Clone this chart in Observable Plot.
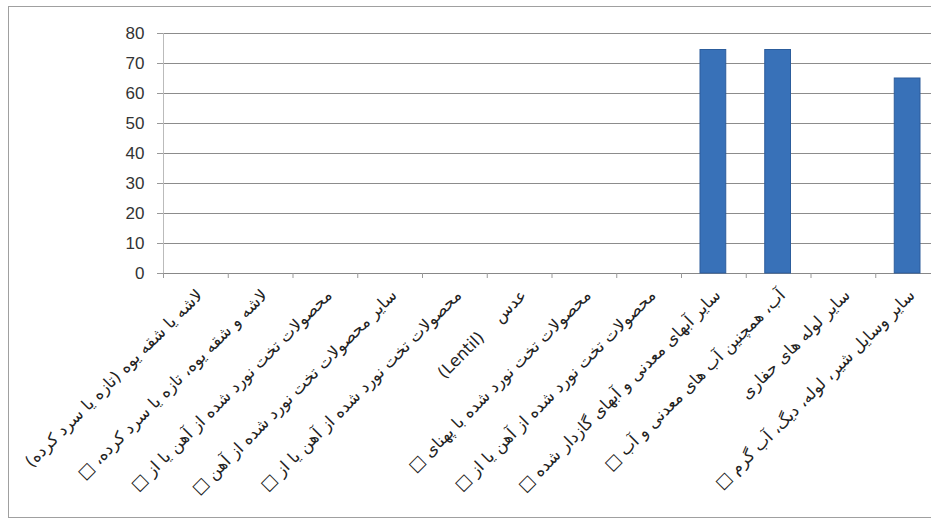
<!DOCTYPE html>
<html><head><meta charset="utf-8">
<script src="https://cdn.jsdelivr.net/npm/d3@7"></script>
<script src="https://cdn.jsdelivr.net/npm/@observablehq/plot@0.6"></script>
<style>
html,body{margin:0;padding:0;background:#fff;overflow:hidden;width:931px;height:523px;}
#frame{position:absolute;left:8px;top:6px;width:960px;height:512px;border:1px solid #a0a0a0;box-sizing:border-box;}
#chart{position:absolute;left:0;top:0;}
#chart svg{max-width:none !important;}
</style></head><body>
<div id="frame"></div><div id="chart"></div>
<script>
const categories = [
  "لاشه یا شقه یوه (تازه یا سرد کرده)",
  "لاشه و شقه یوه، تازه یا سرد کرده، □",
  "محصولات تخت نورد شده از آهن یا از □",
  "سایر محصولات تخت نورد شده از آهن □",
  "محصولات تخت نورد شده از آهن یا از □",
  "عدس    (Lentil)",
  "محصولات تخت نورد شده با پهنای □",
  "محصولات تخت نورد شده از آهن یا از □",
  "سایر آبهای معدنی و آبهای گازدار شده □",
  "آب، همچنین آب های معدنی و آب □",
  "سایر لوله های حفاری",
  "سایر وسایل شیر، لوله، دیگ، آب گرم □"
];
const values = [0, 0, 0, 0, 0, 0, 0, 0, 74.5, 74.5, 0, 65];
const yTicks = [0, 10, 20, 30, 40, 50, 60, 70, 80];

const data = categories.map((c, i) => ({i, c, v: values[i]}));
const bounds = d3.range(categories.length + 1);
const centers = categories.map((c, i) => i + 0.5);

const plot = Plot.plot({
  width: 950, height: 523,
  marginLeft: 163, marginRight: 10, marginTop: 33, marginBottom: 250,
  style: {fontFamily: "'Liberation Sans', Arial, sans-serif", background: "transparent", maxWidth: "none"},
  x: {domain: [0, categories.length], axis: null, label: null},
  y: {domain: [0, 80], axis: null, label: null},
  marks: [
    Plot.gridY(yTicks, {stroke: "#8c8c8c", strokeOpacity: 1, x1: 0, x2: categories.length}),
    Plot.axisY(yTicks, {label: null, tickSize: 6, tickPadding: 13, fontSize: 17, fill: "#333", stroke: "#999", fontFamily: "'Liberation Sans Narrow', 'Liberation Sans', sans-serif"}),
    Plot.ruleX([0], {stroke: "#bbb"}),
    Plot.ruleY([0], {stroke: "#888"}),
    Plot.axisX(bounds, {label: null, tickSize: 5, tickFormat: () => "", stroke: "#999"}),
    Plot.axisX(centers, {
      label: null, tickSize: 0, tickPadding: 19, dx: 4, tickRotate: -45, fontSize: 16.5, fill: "#222",
      fontFamily: "'DejaVu Sans', sans-serif",
      tickFormat: t => "\u202B" + categories[Math.floor(t)] + "\u202C"
    }),
    Plot.rectY(data, {x1: "i", x2: d => d.i + 1, y: "v", insetLeft: 19, insetRight: 20, fill: "#3871b8", stroke: "#2c5d9c", strokeWidth: 1})
  ]
});
document.getElementById("chart").appendChild(plot);
</script>
</body></html>
